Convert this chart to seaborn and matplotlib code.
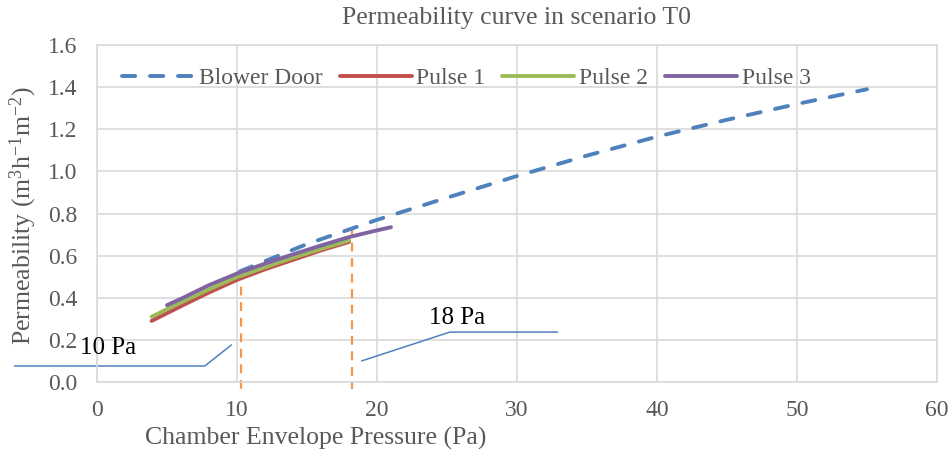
import matplotlib
matplotlib.use("Agg")
import matplotlib.pyplot as plt
import seaborn as sns
import pandas as pd

# ---- data ----
bd_p = [10.2, 15, 20, 25, 30, 35, 40, 45, 50, 55]
bd_v = [0.525, 0.655, 0.77, 0.875, 0.978, 1.075, 1.165, 1.245, 1.32, 1.39]

p1_p = [3.9, 6, 8, 10, 12, 14, 16, 18]
p1_v = [0.29, 0.36, 0.425, 0.485, 0.535, 0.58, 0.625, 0.665]

p2_p = [3.9, 6, 8, 10, 12, 14, 16, 18]
p2_v = [0.31, 0.378, 0.44, 0.498, 0.545, 0.59, 0.632, 0.672]

p3_p = [5.0, 6, 8, 10, 12, 14, 16, 18, 20, 21]
p3_v = [0.365, 0.395, 0.46, 0.515, 0.562, 0.606, 0.648, 0.688, 0.72, 0.735]

series_names = ["Blower Door", "Pulse 1", "Pulse 2", "Pulse 3"]
marker_p = [10.26, 18.2]
marker_top = [0.525, 0.735]
labels_ann = ["10 Pa", "18 Pa"]
ann1_x = [-5.9, 7.7, 9.6]
ann1_y = [0.076, 0.076, 0.176]
ann2_x = [18.9, 25.2, 32.9]
ann2_y = [0.10, 0.237, 0.237]

xticks = [0, 10, 20, 30, 40, 50, 60]
yticks = [0.0, 0.2, 0.4, 0.6, 0.8, 1.0, 1.2, 1.4, 1.6]

sns.set_theme(style="white")
plt.rcParams['font.family'] = ['Liberation Serif', 'DejaVu Serif']
plt.rcParams['mathtext.fontset'] = 'custom'
plt.rcParams['mathtext.rm'] = 'Liberation Serif'
plt.rcParams['mathtext.it'] = 'Liberation Serif:italic'

fig = plt.figure(figsize=(9.52, 4.57), dpi=100)
ax = fig.add_axes([0.1019, 0.1641, 0.8823, 0.7374])

colors = {"Blower Door": "#4F81BD", "Pulse 1": "#C0504D",
          "Pulse 2": "#9BBB59", "Pulse 3": "#8064A2"}
lw = 2.8

df_bd = pd.DataFrame({"P": bd_p, "V": bd_v})
sns.lineplot(data=df_bd, x="P", y="V", ax=ax, color=colors["Blower Door"],
             lw=lw, sort=False, label="Blower Door")
ax.lines[-1].set_dashes((3.4, 3.8))
ax.lines[-1].set_dash_capstyle('round')
for name, pp, vv in [("Pulse 1", p1_p, p1_v), ("Pulse 2", p2_p, p2_v),
                     ("Pulse 3", p3_p, p3_v)]:
    d = pd.DataFrame({"P": pp, "V": vv})
    sns.lineplot(data=d, x="P", y="V", ax=ax, color=colors[name], lw=lw,
                 sort=False, label=name)

# orange marker lines
for xp, yt in zip(marker_p, marker_top):
    ax.plot([xp, xp], [yt, -0.035], color="#F79646", lw=1.6,
            dashes=(4, 3), clip_on=False, zorder=1)

# annotations
ax.plot(ann1_x, ann1_y, color="#4F81BD", lw=1.1, clip_on=False)
ax.plot(ann2_x, ann2_y, color="#4F81BD", lw=1.1, clip_on=False)
ax.text(0.8, 0.16, labels_ann[0], fontsize=18, color="black",
        ha="center", va="center")
ax.text(25.7, 0.305, labels_ann[1], fontsize=18, color="black",
        ha="center", va="center")

ax.set_xlim(0, 60)
ax.set_ylim(0, 1.6)
ax.set_xticks(xticks)
ax.set_yticks(yticks)
ax.set_xticklabels([str(t) for t in xticks])
ax.set_yticklabels([f"{t:.1f}" for t in yticks])
ax.grid(True, color="#D9D9D9", lw=1.2)
ax.set_axisbelow(True)
for s in ax.spines.values():
    s.set_color("#D9D9D9")
    s.set_linewidth(1.2)
ax.tick_params(axis="x", length=0, labelsize=17, colors="#595959", pad=13)
ax.tick_params(axis="y", length=0, labelsize=17, colors="#595959", pad=14)

ax.set_xlabel("Chamber Envelope Pressure (Pa)", fontsize=18.5, color="#595959")
ax.xaxis.set_label_coords(0.26, -0.134)
ax.set_ylabel(r"Permeability (m$^{3}$h$^{-1}$m$^{-2}$)", fontsize=18.5,
              color="#595959")
ax.yaxis.set_label_coords(-0.069, 0.495)
ax.set_title("Permeability curve in scenario T0", fontsize=18.5,
             color="#595959", pad=15)

leg = ax.legend(loc="center", bbox_to_anchor=(0.44, 0.902), ncol=4,
                frameon=False, fontsize=17, handlelength=3.05,
                handletextpad=0.2, columnspacing=0.72)
for t in leg.get_texts():
    t.set_color("#595959")
for h in leg.get_lines():
    h.set_linewidth(lw)

fig.savefig("out.png", dpi=100)
